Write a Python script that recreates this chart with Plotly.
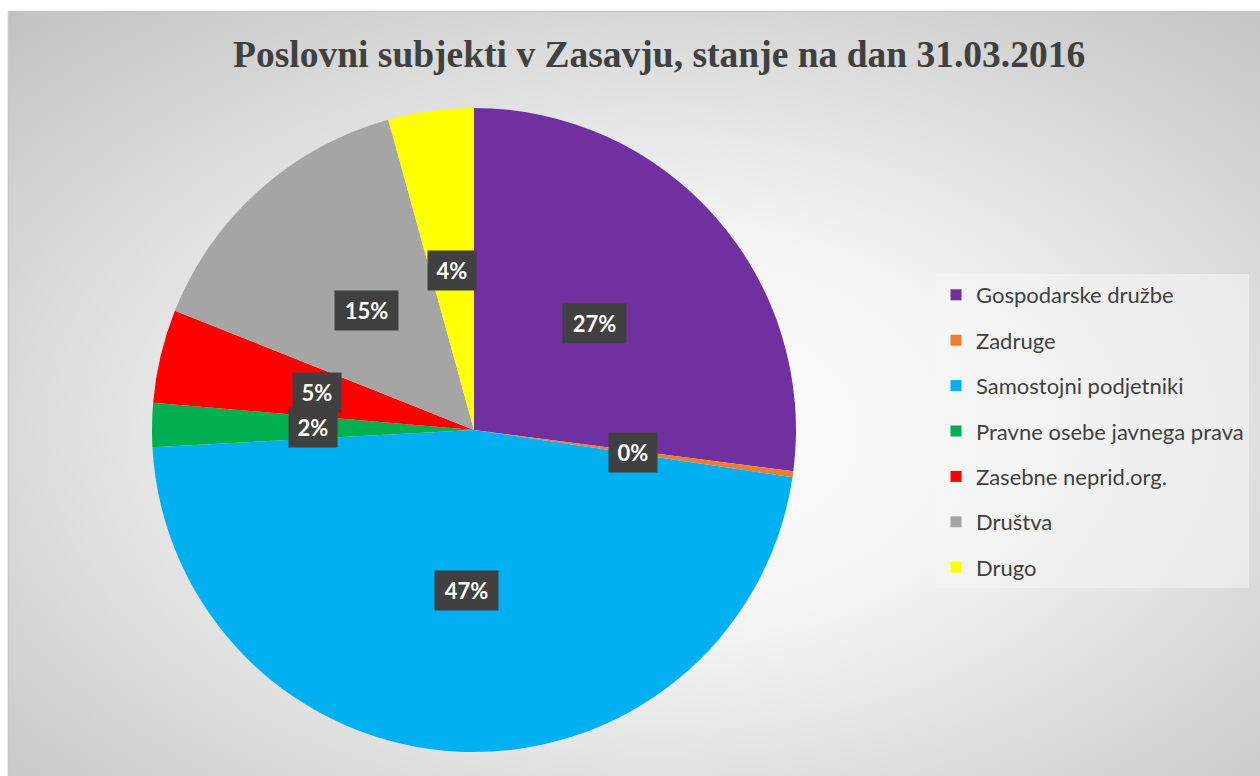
import base64
import math
import plotly.graph_objects as go

# ---- data ----
categories = ["Gospodarske družbe", "Zadruge", "Samostojni podjetniki",
              "Pravne osebe javnega prava", "Zasebne neprid.org.", "Društva", "Drugo"]
values = [27.1, 0.3, 46.9, 2.2, 4.7, 14.7, 4.3]
colors = ["#7030A0", "#ED7D31", "#00B0F0", "#00B050", "#FF0000", "#A5A5A5", "#FFFF00"]
title_text = "Poslovni subjekti v Zasavju, stanje na dan 31.03.2016"

W, H = 1260, 776
CX, CY, R = 474, 430, 322  # pie centre / radius in pixels

fig = go.Figure()

fig.add_trace(go.Pie(
    labels=categories, values=values, sort=False, direction="clockwise", rotation=0,
    marker=dict(colors=colors, line=dict(width=0)),
    textinfo="none", hoverinfo="label+percent", showlegend=False,
    domain=dict(x=[(CX - R) / W, (CX + R) / W], y=[1 - (CY + R) / H, 1 - (CY - R) / H]),
))

# legend entries (one group per category so spacing can be set)
for lab, col in zip(categories, colors):
    fig.add_trace(go.Scatter(
        x=[None], y=[None], mode="markers", name=lab, legendgroup=lab,
        marker=dict(symbol="square", size=11, color=col, line=dict(width=0)),
        hoverinfo="skip",
    ))

# data labels: dark boxes at half radius along the mid-angle of each slice
total = sum(values)
cum = 0.0
annotations = []
for v in values:
    mid = (cum + v / 2) / total * 2 * math.pi
    cum += v
    px = CX + 0.5 * R * math.sin(mid)
    py = CY - 0.5 * R * math.cos(mid)
    txt = f"{round(v / total * 100)}%"
    annotations.append(dict(
        x=px / W, y=1 - py / H, xref="paper", yref="paper", showarrow=False,
        text=f"<b>{txt}</b>", font=dict(family="Lato, Noto Sans, sans-serif", size=22, color="white"),
        bgcolor="#404040", borderpad=5, width=15 * len(txt) + 8, height=29,
        xanchor="center", yanchor="middle",
    ))

annotations.append(dict(
    x=659 / W, y=1 - 55 / H, xref="paper", yref="paper", showarrow=False,
    text=f"<b>{title_text}</b>",
    font=dict(family="Liberation Serif, Times New Roman, serif", size=37.5, color="#404040"),
    xanchor="center", yanchor="middle",
))

# radial gradient background as svg image
svg = (
    '<svg xmlns="http://www.w3.org/2000/svg" width="1252" height="765" viewBox="0 0 1252 765" '
    'preserveAspectRatio="none">'
    '<defs><radialGradient id="g" cx="52%" cy="55%" r="75%" fx="52%" fy="55%">'
    '<stop offset="0%" stop-color="#ffffff"/>'
    '<stop offset="35%" stop-color="#f4f4f4"/>'
    '<stop offset="100%" stop-color="#c2c2c2"/>'
    '</radialGradient></defs>'
    '<rect x="0" y="0" width="1252" height="765" fill="url(#g)"/></svg>'
)
src = "data:image/svg+xml;base64," + base64.b64encode(svg.encode()).decode()

fig.update_layout(
    width=W, height=H, margin=dict(l=0, r=0, t=0, b=0),
    paper_bgcolor="white", plot_bgcolor="rgba(0,0,0,0)",
    xaxis=dict(visible=False), yaxis=dict(visible=False),
    images=[dict(source=src, xref="paper", yref="paper", x=8 / W, y=1 - 11 / H,
                 sizex=1 - 8 / W, sizey=1 - 11 / H, sizing="stretch",
                 xanchor="left", yanchor="top", layer="below")],
    shapes=[dict(type="line", xref="paper", yref="paper", x0=8 / W, x1=1, y0=1 - 11.5 / H, y1=1 - 11.5 / H,
                 line=dict(color="#c8c8c8", width=1.5)),
            dict(type="line", xref="paper", yref="paper", x0=8.5 / W, x1=8.5 / W, y0=0, y1=1 - 11 / H,
                 line=dict(color="#c8c8c8", width=1.5))],
    annotations=annotations,
    legend=dict(x=936 / W, y=1 - 274 / H, xanchor="left", yanchor="top",
                bgcolor="rgba(245,245,245,0.55)", borderwidth=0,
                font=dict(family="Lato, Noto Sans, sans-serif", size=22, color="#404040"),
                tracegroupgap=13.8, itemwidth=30),
)

fig.write_html("out.html", config={"displayModeBar": False},
               post_script="document.body.style.margin='0';")
